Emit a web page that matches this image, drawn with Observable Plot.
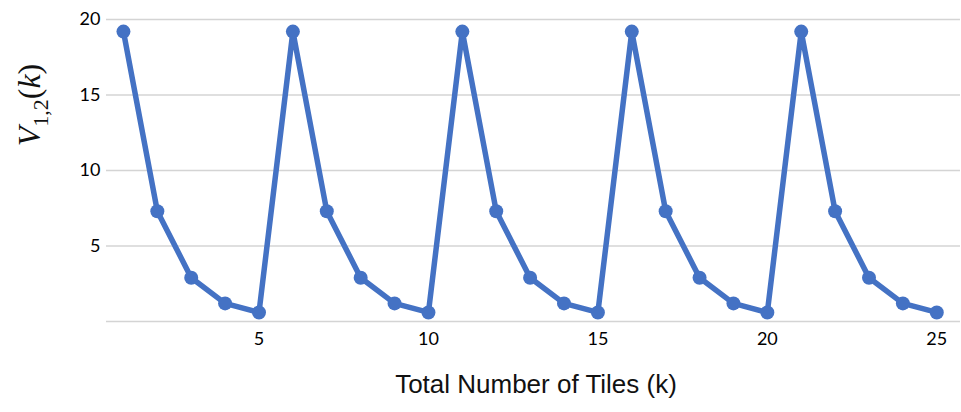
<!DOCTYPE html>
<html>
<head>
<meta charset="utf-8">
<script src="https://cdn.jsdelivr.net/npm/d3@7"></script>
<script src="https://cdn.jsdelivr.net/npm/@observablehq/plot@0.6"></script>
<style>
  html, body { margin: 0; padding: 0; background: #fff; }
  #chart { width: 961px; height: 412px; }
</style>
</head>
<body>
<div id="chart"></div>
<script>
// Total number of tiles k and the variance V_{1,2}(k)
const tiles = [1, 2, 3, 4, 5, 6, 7, 8, 9, 10, 11, 12, 13, 14, 15, 16, 17, 18, 19, 20, 21, 22, 23, 24, 25];
const variance = [
  19.2, 7.3, 2.9, 1.2, 0.6,
  19.2, 7.3, 2.9, 1.2, 0.6,
  19.2, 7.3, 2.9, 1.2, 0.6,
  19.2, 7.3, 2.9, 1.2, 0.6,
  19.2, 7.3, 2.9, 1.2, 0.6
];
const xTicks = [5, 10, 15, 20, 25];
const yTicks = [5, 10, 15, 20];
const yGrid = [0, 5, 10, 15, 20];

const data = tiles.map((k, i) => ({k, v: variance[i]}));
const blue = "#4472C4";

const plot = Plot.plot({
  width: 961,
  height: 412,
  marginLeft: 106,
  marginRight: 1,
  marginTop: 19,
  marginBottom: 91,
  style: {fontFamily: "Lato, 'Open Sans', sans-serif", fontSize: "18px", color: "#000", background: "#fff"},
  x: {domain: [0.5, 25.7], label: null},
  y: {domain: [0, 20], label: null},
  marks: [
    Plot.gridY(yGrid, {stroke: "#d4d4d4", strokeOpacity: 1, strokeWidth: 1.6}),
    Plot.axisY(yTicks, {tickSize: 0, tickPadding: 6, fill: "#000", fontSize: 18}),
    Plot.axisX(xTicks, {tickSize: 0, tickPadding: 11, fill: "#000", fontSize: 18, label: null}),
    Plot.line(data, {x: "k", y: "v", stroke: blue, strokeWidth: 5.5, strokeLinejoin: "round"}),
    Plot.dot(data, {x: "k", y: "v", fill: blue, r: 7})
  ]
});

document.getElementById("chart").appendChild(plot);

const svg = d3.select(plot);

// x axis title
svg.append("text")
  .attr("x", 536)
  .attr("y", 393)
  .attr("text-anchor", "middle")
  .attr("font-family", "'Liberation Sans', Arial, sans-serif")
  .attr("font-size", 26)
  .attr("fill", "#111")
  .text("Total Number of Tiles (k)");

// y axis title: V_{1,2}(k)
const yt = svg.append("text")
  .attr("transform", "translate(40,105) rotate(-90)")
  .attr("text-anchor", "middle")
  .attr("font-family", "'Liberation Serif', 'DejaVu Serif', serif")
  .attr("font-size", 32)
  .attr("fill", "#111");
yt.append("tspan").attr("font-style", "italic").text("V");
yt.append("tspan").attr("font-size", 22).attr("dy", 8).text("1,2");
yt.append("tspan").attr("dy", -8).text("(");
yt.append("tspan").attr("font-style", "italic").text("k");
yt.append("tspan").text(")");
</script>
</body>
</html>
